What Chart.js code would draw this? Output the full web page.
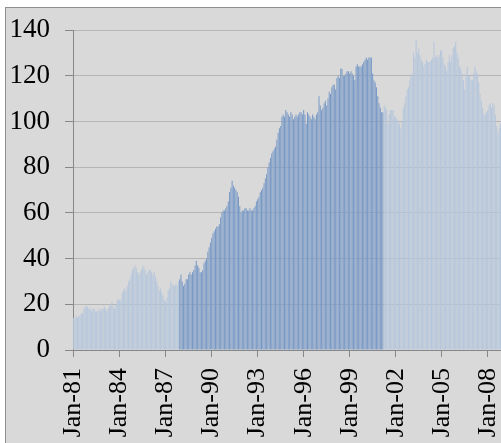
<!DOCTYPE html>
<html>
<head>
<meta charset="utf-8">
<script src="https://cdn.jsdelivr.net/npm/chart.js@4.4.1/dist/chart.umd.min.js"></script>
<style>
  html, body { margin: 0; padding: 0; background: #fff; overflow: hidden; width: 501px; height: 443px; }
  #frame { position: absolute; left: 5px; top: 7px; width: 520px; height: 470px;
           border: 1px solid #8e8e8e; background: #d9d9d9; }
</style>
</head>
<body>
<div id="frame"><canvas id="chart" width="520" height="470"></canvas></div>
<script>
// monthly index, Jan-81 .. Dec-08 (one row per year)
const values = [
  14, 14, 15, 14, 15, 15, 16, 16, 18, 19, 19, 19,
  18, 18, 17, 18, 18, 17, 17, 17, 18, 17, 18, 18,
  19, 18, 17, 18, 19, 20, 21, 19, 18, 20, 22, 22,
  22, 22, 25, 26, 27, 26, 28, 30, 31, 33, 35, 36,
  37, 36, 34, 33, 34, 35, 37, 36, 35, 33, 34, 35,
  35, 34, 33, 34, 32, 30, 28, 26, 27, 25, 24, 22,
  21, 23, 26, 27, 30, 29, 28, 28, 29, 28, 30, 31,
  33, 30, 28, 29, 31, 31, 33, 34, 33, 34, 35, 37,
  39, 37, 36, 34, 34, 35, 38, 39, 40, 43, 45, 47,
  49, 51, 52, 53, 54, 54, 55, 58, 60, 61, 61, 62,
  63, 65, 69, 71, 74, 72, 71, 70, 69, 67, 63, 60,
  61, 61, 62, 62, 61, 61, 62, 61, 61, 62, 63, 65,
  66, 67, 69, 70, 71, 73, 75, 77, 80, 82, 84, 86,
  87, 88, 89, 92, 95, 97, 98, 102, 103, 102, 105, 104,
  103, 102, 104, 103, 101, 102, 103, 102, 103, 104, 104, 103,
  105, 103, 99, 104, 103, 102, 101, 103, 102, 101, 103, 104,
  111, 107, 105, 106, 108, 109, 107, 110, 113, 112, 115, 116,
  116, 114, 119, 120, 119, 123, 123, 120, 120, 121, 122, 122,
  121, 122, 121, 120, 118, 124, 125, 124, 124, 124, 125, 126,
  127, 128, 127, 128, 128, 128, 121, 118, 117, 115, 111, 108,
  106, 104, 104, 107, 106, 105, 99, 103, 105, 105, 105, 102,
  102, 101, 100, 99, 97, 100, 106, 108, 111, 114, 115, 118,
  120, 121, 130, 128, 136, 130, 132, 129, 127, 126, 124, 125,
  127, 126, 126, 126, 127, 128, 135, 128, 129, 128, 129, 131,
  131, 128, 125, 124, 122, 126, 129, 126, 129, 132, 133, 135,
  130, 128, 124, 123, 121, 118, 114, 121, 124, 120, 120, 118,
  118, 121, 124, 122, 121, 117, 112, 109, 106, 103, 103, 104,
  105, 107, 108, 106, 108, 107, 103, 98, 95, 97, 99, 100
];

const monthNames = ['Jan', 'Feb', 'Mar', 'Apr', 'May', 'Jun', 'Jul', 'Aug', 'Sep', 'Oct', 'Nov', 'Dec'];
const months = values.map((v, i) => monthNames[i % 12] + '-' + String(81 + Math.floor(i / 12)).slice(-2));
const tickLabels = ['Jan-81', 'Jan-84', 'Jan-87', 'Jan-90', 'Jan-93', 'Jan-96', 'Jan-99', 'Jan-02', 'Jan-05', 'Jan-08'];
const yTicks = [0, 20, 40, 60, 80, 100, 120, 140];

// darker run of bars
const shadeFrom = 'Dec-87';
const shadeTo = 'Mar-01';

const lightBar = '#b5c6dc';
const darkBar = '#7899c6';
const axisGrey = '#878787';
const serif = "'Liberation Serif', 'Times New Roman', serif";

const i0 = months.indexOf(shadeFrom);
const i1 = months.indexOf(shadeTo);
const barColors = values.map((v, i) => (i >= i0 && i <= i1) ? darkBar : lightBar);
const isLabelled = (i) => tickLabels.includes(months[i]);

const ctx = document.getElementById('chart').getContext('2d');
new Chart(ctx, {
  type: 'bar',
  data: {
    labels: months,
    datasets: [{
      data: values,
      backgroundColor: barColors,
      borderWidth: 0,
      barPercentage: 0.78,
      categoryPercentage: 1.0
    }]
  },
  options: {
    responsive: false,
    animation: false,
    devicePixelRatio: 1,
    layout: { padding: { top: 22, right: 23.6, bottom: 0, left: 0 } },
    plugins: { legend: { display: false }, tooltip: { enabled: false } },
    scales: {
      x: {
        offset: true,
        grid: {
          display: true, offset: true, drawOnChartArea: false, drawTicks: true, tickLength: 7,
          // only the labelled months get a tick mark
          tickColor: (c) => isLabelled(c.index) ? axisGrey : 'rgba(0,0,0,0)'
        },
        border: { display: true, color: axisGrey, width: 1 },
        ticks: {
          autoSkip: false,
          minRotation: 90,
          maxRotation: 90,
          padding: 11,
          color: '#000',
          // unlabelled months take no room at the plot edges
          font: (c) => ({ family: serif, size: 26, lineHeight: isLabelled(c.index) ? 1.2 : 0.01 }),
          callback: (v, i) => isLabelled(i) ? months[i] : ''
        },
        afterFit: (s) => { s.height = 128; }
      },
      y: {
        min: 0,
        max: 140,
        z: 1,
        afterBuildTicks: (s) => { s.ticks = yTicks.map(v => ({ value: v })); },
        grid: { color: 'rgba(110,110,110,0.33)', tickColor: axisGrey, tickLength: 8, lineWidth: 1 },
        border: { display: true, color: axisGrey, width: 1 },
        ticks: {
          padding: 15,
          color: '#000',
          font: { family: serif, size: 27, lineHeight: 0.5 }
        },
        afterFit: (s) => { s.width = 67; }
      }
    }
  }
});
</script>
</body>
</html>
